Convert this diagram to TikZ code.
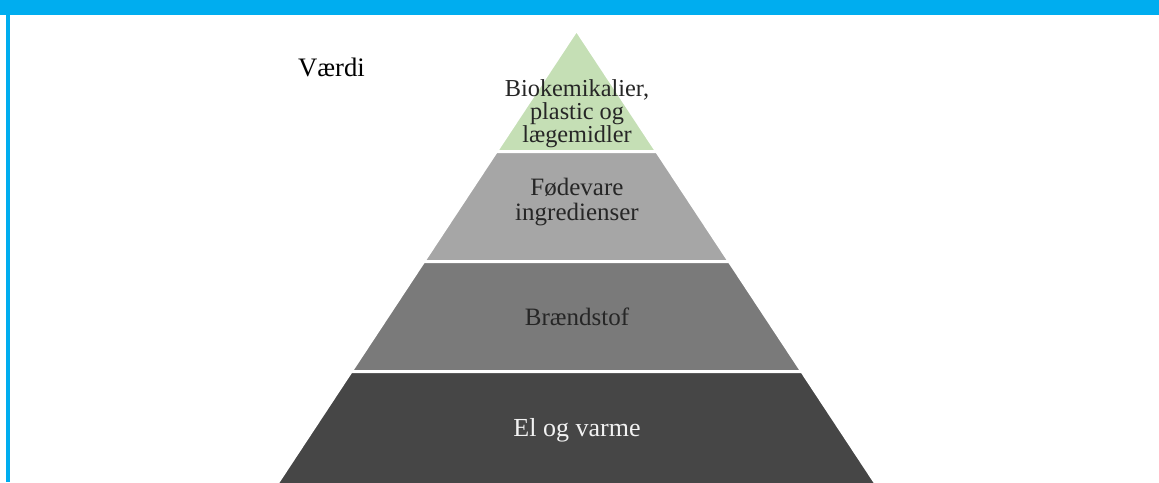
\documentclass[tikz,border=0pt]{standalone}
\usepackage{fontspec}
\setmainfont{Liberation Serif}
\definecolor{frameblue}{HTML}{00ADEF}
\definecolor{lvlone}{HTML}{C5DFB5}
\definecolor{lvltwo}{HTML}{A6A6A6}
\definecolor{lvlthree}{HTML}{7A7A7A}
\definecolor{lvlfour}{HTML}{464646}
\definecolor{darktext}{HTML}{262626}
\definecolor{lighttext}{HTML}{F2F2F2}
\tikzset{
  level/.style={draw=white, line width=2.25pt, line join=miter},
  lbl/.style={anchor=base, inner sep=0pt,
    font=\fontsize{18.75pt}{16.5pt}\selectfont, text=darktext},
  lblsmall/.style={lbl, font=\fontsize{18.25pt}{16.5pt}\selectfont},
  lbllight/.style={lbl, text=lighttext},
}
\begin{document}
\begin{tikzpicture}[x=0.75pt, y=-0.75pt]
\useasboundingbox (0,0) rectangle (1159,482);
\clip (0,0) rectangle (1159,482);
\fill[white] (0,0) rectangle (1159,482);
% frame
\fill[frameblue] (0,0) rectangle (1159,15);
\fill[frameblue] (6,0) rectangle (10,482);
% pyramid levels
\filldraw[level, fill=lvlone] (576.5,30) -- (656.7,151.5) -- (496.3,151.5) -- cycle;
\filldraw[level, fill=lvltwo] (496.3,151.5) -- (656.7,151.5) -- (729.3,261.5) -- (423.7,261.5) -- cycle;
\filldraw[level, fill=lvlthree] (423.7,261.5) -- (729.3,261.5) -- (801.9,371.5) -- (351.1,371.5) -- cycle;
\filldraw[level, fill=lvlfour] (351.1,371.5) -- (801.9,371.5) -- (886.7,500) -- (266.3,500) -- cycle;
% labels
\node[lbl, font=\fontsize{20pt}{20pt}\selectfont, text=black] (vaerdi) at (331.5,76) {Værdi};
\node[lblsmall] (bioa) at (577,96) {Biokemikalier,};
\node[lblsmall] (biob) at (577,119) {plastic og};
\node[lblsmall] (bioc) at (577,142) {lægemidler};
\node[lbl] (fooda) at (577,195) {Fødevare};
\node[lbl] (foodb) at (577,220) {ingredienser};
\node[lbl] (fuel) at (577,325) {Brændstof};
\node[lbllight, font=\fontsize{19.5pt}{16.5pt}\selectfont] (heat) at (577,436) {El og varme};
\end{tikzpicture}
\end{document}
